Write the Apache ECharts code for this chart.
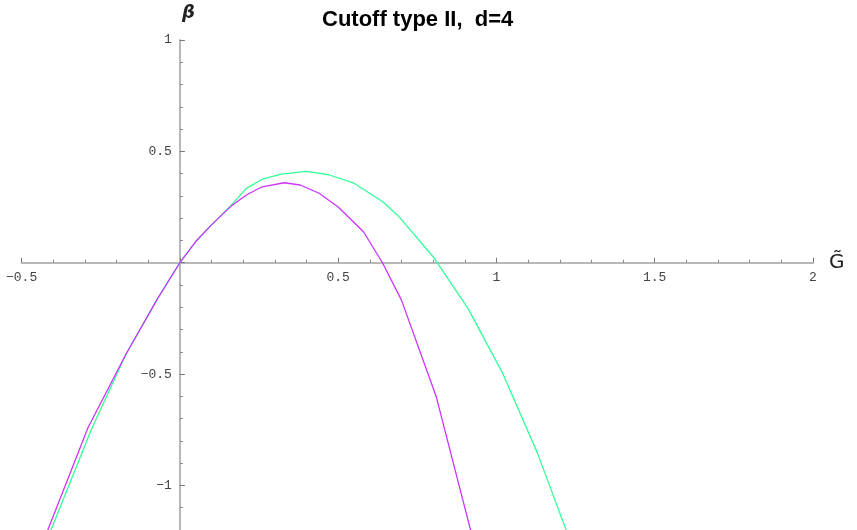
<!DOCTYPE html>
<html>
<head>
<meta charset="utf-8">
<script src="https://cdn.jsdelivr.net/npm/echarts@6/dist/echarts.min.js"></script>
<style>html,body{margin:0;padding:0;background:#fff;}#c{width:857px;height:530px;}</style>
</head>
<body>
<div id="c"></div>
<script>
// Purple curve
const purpleX = [-0.42, -0.29, -0.17, -0.07, 0, 0.05, 0.1, 0.16, 0.21, 0.26, 0.33, 0.38, 0.44, 0.5, 0.58, 0.64, 0.70, 0.81, 0.92];
const purpleY = [-1.21, -0.74, -0.41, -0.16, 0, 0.095, 0.17, 0.252, 0.304, 0.341, 0.359, 0.349, 0.312, 0.25, 0.139, 0.0, -0.168, -0.602, -1.21];
// Green curve
const greenX = [-0.41, -0.28, -0.17, -0.07, 0, 0.05, 0.1, 0.16, 0.21, 0.26, 0.32, 0.40, 0.47, 0.55, 0.64, 0.69, 0.80, 0.91, 1.02, 1.13, 1.22];
const greenY = [-1.21, -0.75, -0.41, -0.16, 0, 0.095, 0.17, 0.255, 0.334, 0.375, 0.398, 0.41, 0.395, 0.357, 0.275, 0.21, 0.027, -0.205, -0.497, -0.856, -1.2];
const titleText = 'Cutoff type II,  d=4';
const xName = 'G\u0303';
const yName = 'β';

function fmt(v) {
  if (Math.abs(v) < 1e-9) return '';
  return String(Math.round(v * 10) / 10).replace('-', '−');
}
function pairs(xs, ys) { return xs.map((x, i) => [x, ys[i]]); }

const W = 857, H = 530;
const gridLeft = 21.6, gridRight = 44, gridTop = 40, gridBottom = -66.8;
const xMin = -0.5, xMax = 2, yMin = -1.5, yMax = 1;
const plotW = W - gridLeft - gridRight;
const plotH = H - gridTop - gridBottom;
// axis offsets so that axes cross at the origin
const yAxisOffset = -((0 - xMin) / (xMax - xMin) * plotW);
const xAxisOffset = -((0 - yMin) / (yMax - yMin) * plotH);

const chart = echarts.init(document.getElementById('c'), null, {renderer: 'canvas'});
const labelStyle = {fontFamily: 'Liberation Mono', fontSize: 13, color: '#444'};
chart.setOption({
  animation: false,
  backgroundColor: '#fff',
  title: {
    text: titleText, left: 317, top: 4,
    textStyle: {fontFamily: 'Liberation Sans', fontWeight: 'bold', fontSize: 22, color: '#000'}
  },
  grid: {left: gridLeft, right: gridRight, top: gridTop, bottom: gridBottom, containLabel: false, outerBoundsMode: 'none'},
  xAxis: {
    type: 'value', min: xMin, max: xMax, interval: 0.5,
    position: 'bottom', offset: xAxisOffset,
    name: xName, nameLocation: 'end', nameGap: 16,
    nameTextStyle: {fontFamily: 'DejaVu Sans', fontSize: 20, color: '#222'},
    axisLine: {onZero: false, lineStyle: {color: '#b8b8b8', width: 2}},
    axisTick: {show: true, inside: true, length: 5, lineStyle: {color: '#777', width: 1}},
    minorTick: {show: true, splitNumber: 5, length: 3, lineStyle: {color: '#888', width: 1}},
    splitLine: {show: false},
    axisLabel: Object.assign({margin: 8, formatter: fmt, showMinLabel: true, showMaxLabel: true}, labelStyle)
  },
  yAxis: {
    type: 'value', min: yMin, max: yMax, interval: 0.5,
    position: 'left', offset: yAxisOffset,
    name: yName, nameLocation: 'end', nameGap: 18,
    nameTextStyle: {fontFamily: 'DejaVu Sans', fontStyle: 'italic', fontWeight: 'bold', fontSize: 18, color: '#222', align: 'left', padding: [0, 0, 0, 2]},
    axisLine: {onZero: false, lineStyle: {color: '#b8b8b8', width: 2}},
    axisTick: {show: true, inside: true, length: 5, lineStyle: {color: '#777', width: 1}},
    minorTick: {show: true, splitNumber: 5, length: 3, lineStyle: {color: '#888', width: 1}},
    splitLine: {show: false},
    axisLabel: Object.assign({margin: 8, formatter: fmt}, labelStyle)
  },
  series: [
    {type: 'line', data: pairs(greenX, greenY), showSymbol: false, clip: true,
     lineStyle: {color: '#33ff99', width: 1.3}, z: 2},
    {type: 'line', data: pairs(purpleX, purpleY), showSymbol: false, clip: true,
     lineStyle: {color: '#cc33ff', width: 1.3}, z: 3}
  ]
});
</script>
</body>
</html>
